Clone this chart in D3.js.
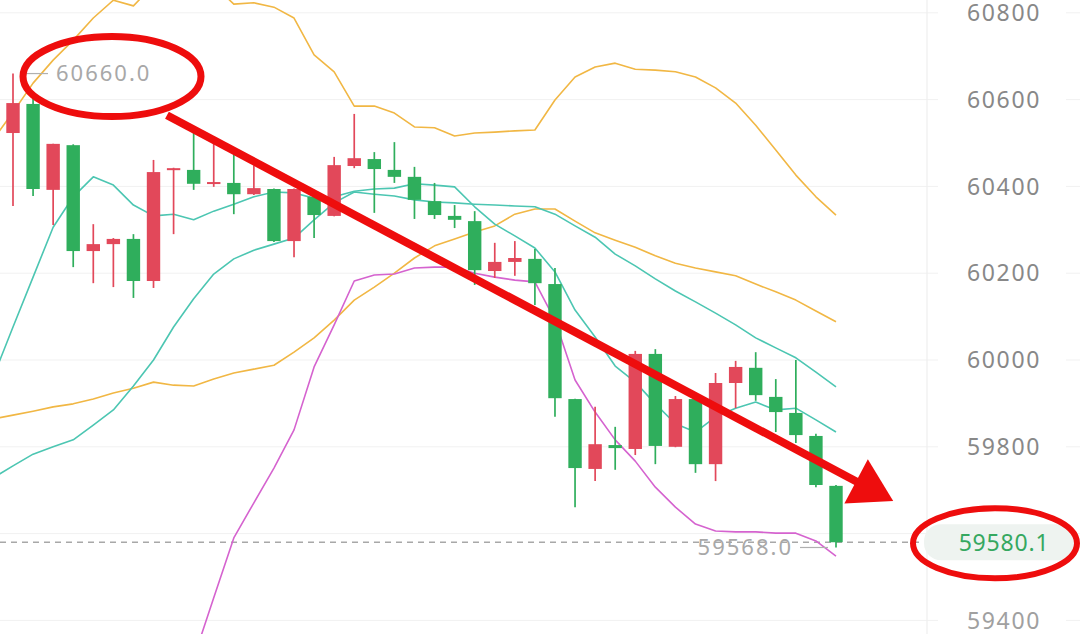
<!DOCTYPE html>
<html><head><meta charset="utf-8">
<script src="https://cdn.jsdelivr.net/npm/d3@7"></script>
<style>html,body{margin:0;padding:0;background:#fff;} svg{display:block;}</style>
</head><body>
<svg id="chart" width="1080" height="634"></svg>
<script>
// ---- candle data (index 0..41) ----
const open  = [60523,60590,60392,60495,60251,60267,60279,60182,60438,60438,60406,60408,60382,60394,60274,60376,60332,60447,60463,60438,60422,60366,60332,60320,60205,60226,60233,60175,59910,59749,59804,59795,60014,59800,59910,59760,59947,59982,59915,59878,59825,59710];
const high  = [60660,60604,60498,60497,60313,60281,60290,60461,60443,60523,60502,60477,60449,60395,60395,60392,60468,60567,60479,60502,60445,60408,60357,60343,60270,60274,60256,60212,59911,59892,59846,60021,60025,59917,59911,59970,59998,60018,59956,60000,59830,59712];
const low   = [60355,60378,60311,60214,60177,60168,60143,60166,60290,60392,60399,60336,60380,60272,60237,60281,60331,60442,60339,60408,60325,60325,60304,60173,60189,60194,60127,59869,59661,59721,59747,59781,59760,59799,59740,59721,59889,59906,59834,59809,59707,59568];
const close = [60592,60394,60498,60251,60267,60279,60182,60433,60442,60406,60410,60382,60396,60274,60394,60334,60449,60465,60440,60422,60369,60334,60323,60207,60226,60235,60177,59912,59751,59806,59797,60014,59802,59910,59760,59947,59984,59919,59880,59827,59712,59580.1];

// ---- indicator lines (index -1..41) ----
const lineStart = -1;
const upperBand = [60507,60571,60638,60691,60737,60788,60829,60816,60864,60887,60887,60864,60820,60823,60813,60788,60703,60664,60585,60585,60569,60537,60535,60516,60523,60525,60528,60530,60599,60652,60675,60684,60670,60668,60664,60652,60627,60592,60541,60484,60426,60376,60334];
const midLine   = [59864,59873,59882,59892,59899,59910,59924,59935,59949,59942,59940,59956,59970,59979,59988,60018,60051,60092,60138,60168,60200,60235,60263,60279,60295,60309,60336,60348,60348,60320,60293,60276,60260,60240,60223,60212,60203,60194,60175,60157,60138,60113,60088];
const lowerBand = [null,null,null,null,null,null,null,null,null,null,59313,59452,59590,59671,59751,59839,59984,60081,60182,60196,60198,60212,60214,60214,60200,60191,60184,60180,60092,59954,59880,59816,59767,59707,59661,59622,59606,59604,59604,59601,59601,59583,59548];
const maFast    = [59959,60076,60191,60306,60376,60422,60403,60357,60332,60336,60323,60343,60359,60376,60387,60385,60373,60376,60389,60394,60396,60406,60403,60399,60353,60313,60286,60258,60203,60115,60053,59986,59949,59899,59853,59834,59869,59889,59903,59885,59889,59862,59834];
const maSlow    = [59728,59756,59783,59800,59816,59850,59885,59940,60000,60076,60141,60198,60233,60253,60267,60281,60323,60362,60387,60382,60378,60369,60364,60362,60359,60357,60355,60353,60336,60309,60283,60244,60217,60187,60159,60134,60108,60081,60051,60028,60005,59972,59938];

// ---- axis ticks & labels ----
const yTicks = [59400,59600,59800,60000,60200,60400,60600,60800];
const yLabels = [59400,59800,60000,60200,60400,60600,60800]; // 59600 hidden under price tag
const highLabel = "60660.0";
const lowLabel = "59568.0";
const lastPrice = "59580.1";
// annotation arrow (index, price) start -> tip
const arrowFrom = [7.67, 60564];
const arrowTo   = [43.85, 59675];

const svg = d3.select("#chart");
const W = 1080, H = 634;
const x = d3.scaleLinear().domain([0, 41]).range([13, 836]);
const y = d3.scaleLinear().domain([59400, 60800]).range([620.4, 12.8]);

const RED = "#e2485a", GREEN = "#2fae5c";
const FONT = "Noto Sans, sans-serif";

// grid
svg.append("g").selectAll("line").data(yTicks).join("line")
  .attr("x1", 0).attr("x2", 938).attr("y1", d => y(d)).attr("y2", d => y(d))
  .attr("stroke", "#f1f1f1").attr("stroke-width", 1);
svg.append("g").selectAll("line").data(yTicks).join("line")
  .attr("x1", 1066).attr("x2", W).attr("y1", d => y(d)).attr("y2", d => y(d))
  .attr("stroke", "#f1f1f1").attr("stroke-width", 1);
svg.append("line").attr("x1", 927).attr("x2", 927).attr("y1", 0).attr("y2", H)
  .attr("stroke", "#efefef").attr("stroke-width", 1.2);

// y labels
svg.append("g").selectAll("text").data(yLabels).join("text")
  .attr("x", 1004).attr("y", d => y(d)).attr("dy", "0.36em")
  .attr("text-anchor", "middle")
  .attr("font-family", FONT).attr("font-size", 23)
  .attr("letter-spacing", 1.6)
  .attr("fill", d => d === 59400 ? "#a0a0a0" : "#888")
  .text(d => d);

// dashed last price line
svg.append("line").attr("x1", 0).attr("x2", 920).attr("y1", y(59580.1)).attr("y2", y(59580.1))
  .attr("stroke", "#a8a8a8").attr("stroke-width", 1.5).attr("stroke-dasharray", "6,5");

// indicator lines
const plot = svg.append("g");
function drawLine(arr, color) {
  const gen = d3.line()
    .defined(d => d != null)
    .x((d, i) => x(i + lineStart))
    .y(d => y(d));
  plot.append("path").datum(arr).attr("d", gen)
    .attr("fill", "none").attr("stroke", color).attr("stroke-width", 1.6)
    .attr("stroke-linejoin", "round");
}
drawLine(upperBand, "#f1b744");
drawLine(midLine, "#f1b744");
drawLine(lowerBand, "#d563cf");
drawLine(maSlow, "#4cc6b2");
drawLine(maFast, "#4cc6b2");

// candles
const idx = close.map((d, i) => i);
const cg = plot.append("g");
cg.selectAll("line").data(idx).join("line")
  .attr("x1", i => x(i)).attr("x2", i => x(i))
  .attr("y1", i => y(high[i])).attr("y2", i => y(low[i]))
  .attr("stroke", i => close[i] >= open[i] ? RED : GREEN).attr("stroke-width", 1.7);
cg.selectAll("rect").data(idx).join("rect")
  .attr("x", i => x(i) - 6.7).attr("width", 13.4)
  .attr("y", i => y(Math.max(open[i], close[i])))
  .attr("height", i => Math.max(2, Math.abs(y(open[i]) - y(close[i]))))
  .attr("fill", i => close[i] >= open[i] ? RED : GREEN);

// high marker
const hi = d3.maxIndex(high);
svg.append("line").attr("x1", x(hi) + 7).attr("x2", x(hi) + 35)
  .attr("y1", y(high[hi])).attr("y2", y(high[hi]))
  .attr("stroke", "#b0b0b0").attr("stroke-width", 1.2);
svg.append("text").attr("x", x(hi) + 43).attr("y", y(high[hi])).attr("dy", "0.36em")
  .attr("font-family", FONT).attr("font-size", 22).attr("letter-spacing", 2)
  .attr("fill", "#a8a8a8").text(highLabel);

// low marker
const lo = d3.minIndex(low);
svg.append("line").attr("x1", x(lo) - 36).attr("x2", x(lo) - 8)
  .attr("y1", y(low[lo])).attr("y2", y(low[lo]))
  .attr("stroke", "#b0b0b0").attr("stroke-width", 1.2);
svg.append("text").attr("x", x(lo) - 43).attr("y", y(low[lo])).attr("dy", "0.36em")
  .attr("text-anchor", "end")
  .attr("font-family", FONT).attr("font-size", 22).attr("letter-spacing", 2)
  .attr("fill", "#a8a8a8").text(lowLabel);

// last price box
const ly = y(59580.1);
svg.append("rect").attr("x", 924).attr("y", ly - 18).attr("width", 152).attr("height", 36)
  .attr("rx", 17).attr("fill", "#eef3f0");
svg.append("text").attr("x", 1004).attr("y", ly).attr("dy", "0.36em").attr("text-anchor", "middle")
  .attr("font-family", FONT).attr("font-size", 23).attr("letter-spacing", 0.8)
  .attr("fill", "#35a860").text(lastPrice);

// red annotations
const ANN = "#ee0d0d";
svg.append("ellipse").attr("cx", x(hi) + 99).attr("cy", y(high[hi]) + 3).attr("rx", 89).attr("ry", 40)
  .attr("fill", "none").attr("stroke", ANN).attr("stroke-width", 7);
svg.append("ellipse").attr("cx", 995).attr("cy", ly + 1).attr("rx", 82).attr("ry", 35)
  .attr("fill", "none").attr("stroke", ANN).attr("stroke-width", 6);

const ax0 = x(arrowFrom[0]), ay0 = y(arrowFrom[1]);
const ax1 = x(arrowTo[0]), ay1 = y(arrowTo[1]);
const len = Math.hypot(ax1 - ax0, ay1 - ay0);
const ux = (ax1 - ax0) / len, uy = (ay1 - ay0) / len;
const headLen = 42, headHalf = 25;
const bx = ax1 - ux * headLen, by = ay1 - uy * headLen;
svg.append("line").attr("x1", ax0).attr("y1", ay0).attr("x2", bx + ux * 4).attr("y2", by + uy * 4)
  .attr("stroke", ANN).attr("stroke-width", 8);
svg.append("path")
  .attr("d", `M${ax1},${ay1} L${bx - uy * headHalf},${by + ux * headHalf} L${bx + uy * headHalf},${by - ux * headHalf} Z`)
  .attr("fill", ANN);
</script>
</body></html>
